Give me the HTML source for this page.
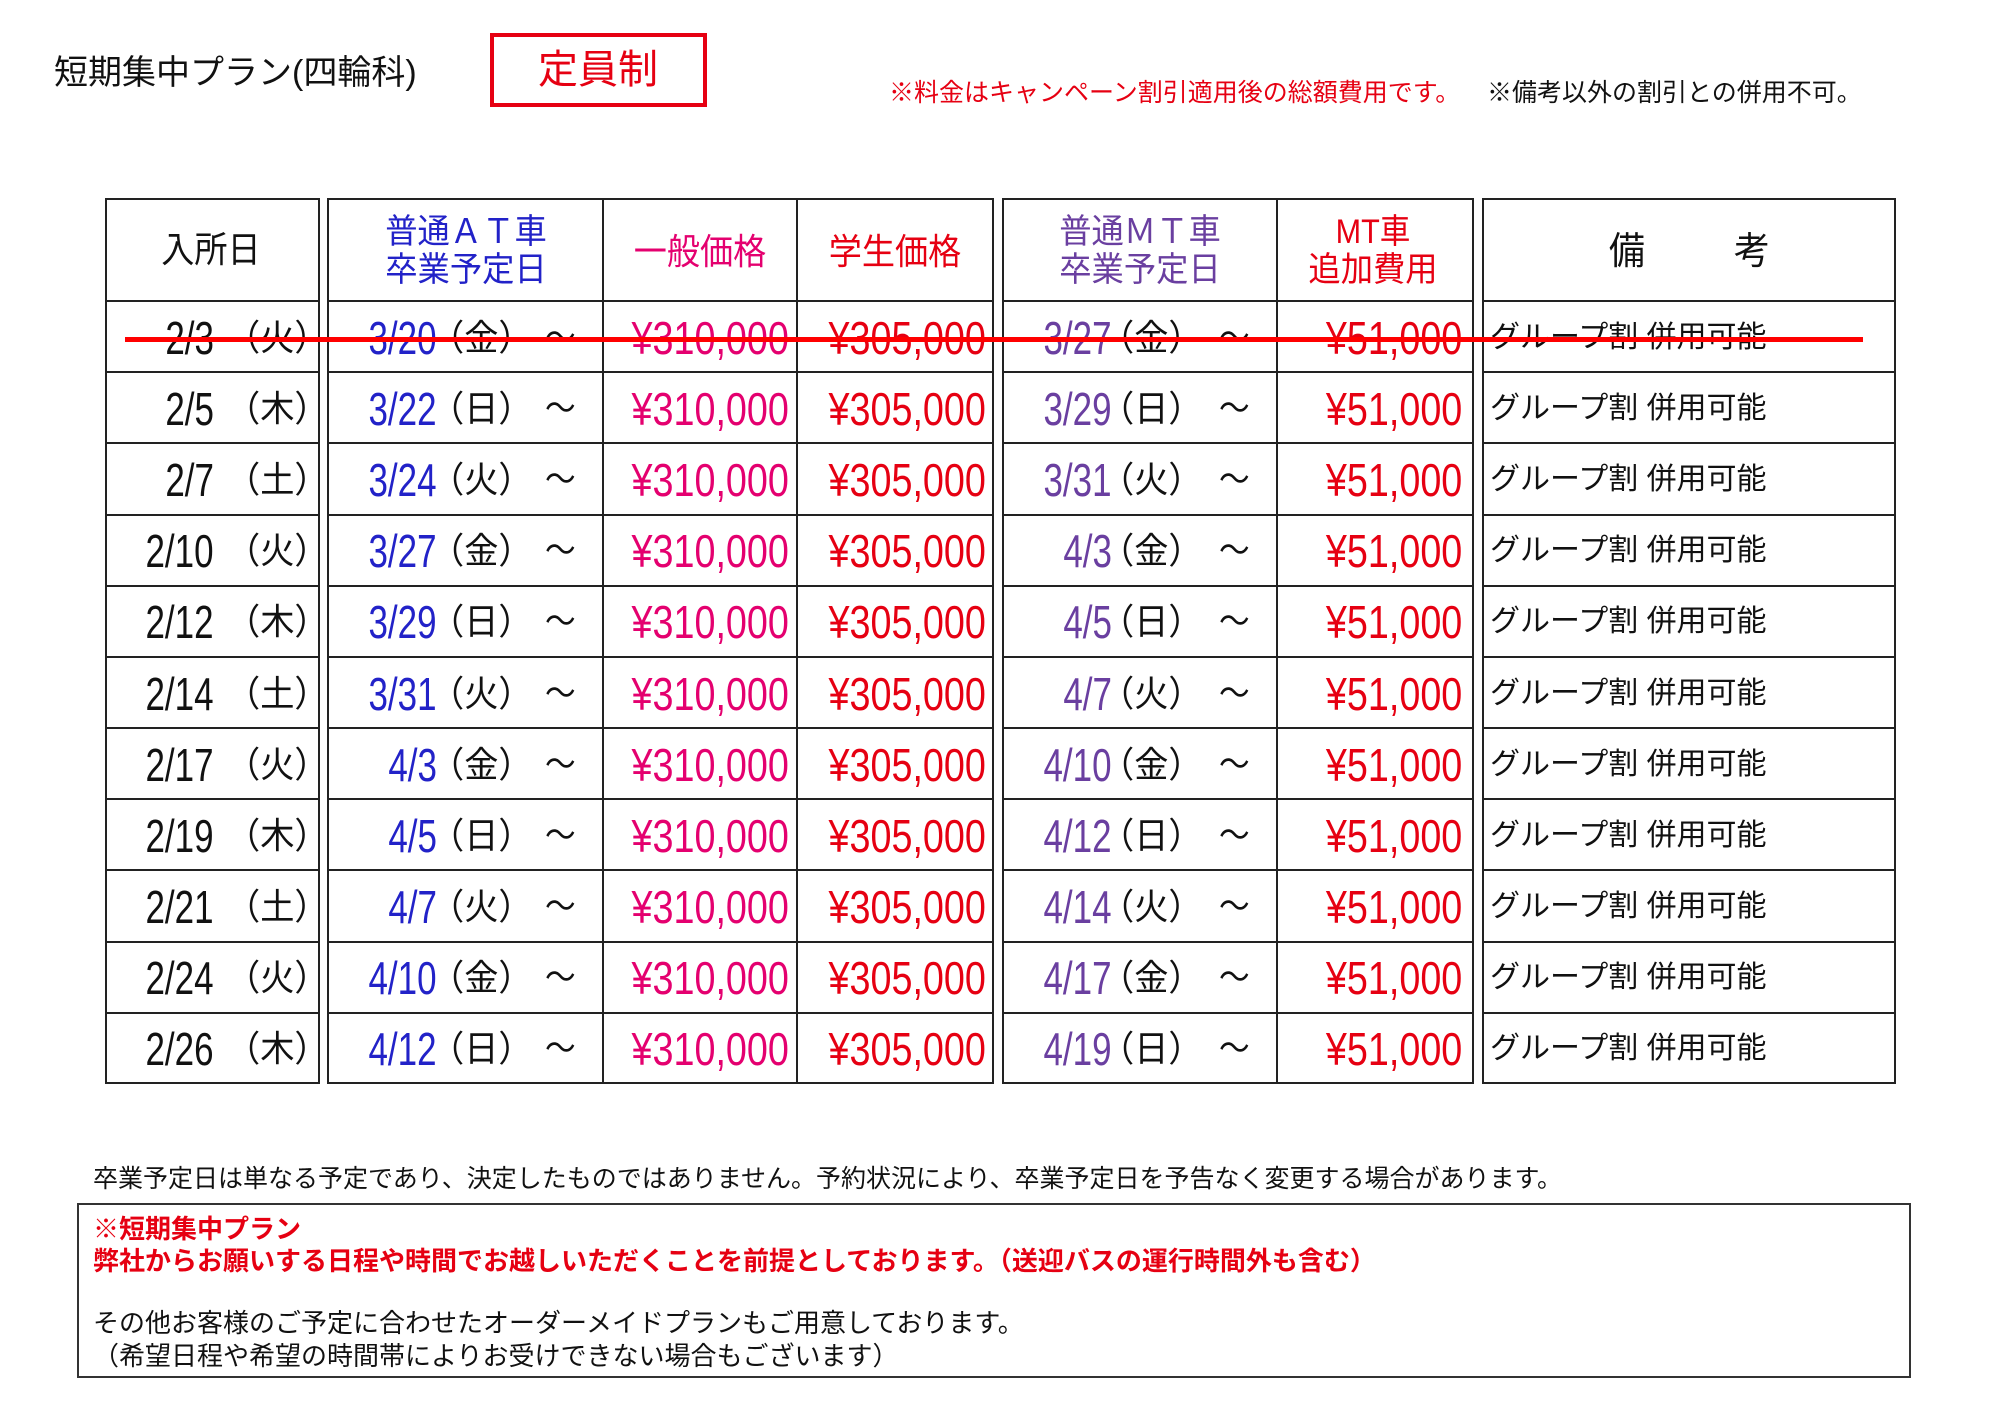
<!DOCTYPE html>
<html><head><meta charset="utf-8">
<style>
html,body{margin:0;padding:0;background:#fff;}
body{width:2000px;height:1414px;position:relative;overflow:hidden;font-family:"Liberation Sans","Noto Sans CJK JP",sans-serif;}
.t{position:absolute;white-space:nowrap;line-height:1;}
.grp{position:absolute;border:2px solid #222;box-sizing:border-box;}
.v{position:absolute;top:0;bottom:0;width:2px;background:#222;}
.h{position:absolute;left:0;right:0;height:2px;background:#222;}
</style></head><body>
<div class="t" style="left:54px;top:56px;font-size:34px;color:#111;">短期集中プラン(四輪科)</div>
<div style="position:absolute;left:490px;top:33px;width:217px;height:74px;border:4px solid #e60012;box-sizing:border-box;"></div>
<div class="t" style="left:538px;top:50px;font-size:40px;color:#e60012;">定員制</div>
<div class="t" style="left:889px;top:81px;font-size:25px;color:#e60012;">※料金はキャンペーン割引適用後の総額費用です。</div>
<div class="t" style="left:1487px;top:81px;font-size:25px;color:#111;">※備考以外の割引との併用不可。</div>

<div id="tbl"></div>

<div class="t" style="left:93px;top:1167px;font-size:25px;color:#111;">卒業予定日は単なる予定であり、決定したものではありません。予約状況により、卒業予定日を予告なく変更する場合があります。</div>
<div style="position:absolute;left:77px;top:1203px;width:1834px;height:175px;border:2px solid #333;box-sizing:border-box;"></div>
<div class="t" style="left:93px;top:1216px;font-size:26px;font-weight:bold;color:#e60012;">※短期集中プラン</div>
<div class="t" style="left:93px;top:1248px;font-size:26px;font-weight:bold;color:#e60012;">弊社からお願いする日程や時間でお越しいただくことを前提としております。（送迎バスの運行時間外も含む）</div>
<div class="t" style="left:93px;top:1310px;font-size:26px;color:#111;">その他お客様のご予定に合わせたオーダーメイドプランもご用意しております。</div>
<div class="t" style="left:93px;top:1343px;font-size:26px;color:#111;">（希望日程や希望の時間帯によりお受けできない場合もございます）</div>

<script>
var T=document.getElementById('tbl');
var TOP=198,HB=301,BOT=1084,RH=(BOT-HB)/11;
function el(h){T.insertAdjacentHTML('beforeend',h);}
function grp(l,r,cols){
  var s='<div class="grp" style="left:'+l+'px;top:'+TOP+'px;width:'+(r-l)+'px;height:'+(BOT-TOP)+'px;">';
  cols.forEach(function(c){s+='<div class="v" style="left:'+(c-l-3)+'px"></div>';});
  s+='<div class="h" style="top:'+(HB-TOP-3)+'px"></div>';
  for(var i=1;i<11;i++)s+='<div class="h" style="top:'+(Math.round(HB+RH*i)-TOP-3)+'px"></div>';
  s+='</div>';el(s);
}
grp(105,320,[]);grp(327,994,[603,797]);grp(1002,1474,[1277]);grp(1482,1896,[]);
function R(txt,xr,cy,sz,col,sx){el('<div class="t" style="right:'+(2000-xr)+'px;top:'+(cy-sz/2)+'px;font-size:'+sz+'px;color:'+col+';transform:scaleX('+sx+');transform-origin:right center;">'+txt+'</div>');}
function L(txt,xl,cy,sz,col,sx){el('<div class="t" style="left:'+xl+'px;top:'+(cy-sz/2)+'px;font-size:'+sz+'px;color:'+col+';transform:scaleX('+sx+');transform-origin:left center;">'+txt+'</div>');}
function C(txt,xc,cy,sz,col,sx){el('<div class="t" style="left:'+(xc-500)+'px;width:1000px;text-align:center;top:'+(cy-sz/2)+'px;font-size:'+sz+'px;color:'+col+';transform:scaleX('+sx+');">'+txt+'</div>');}
var BL='#2222c8',PU='#6a3fa0',MG='#e4006f',RD='#e60012',BK='#111';
C('入所日',211,250,36,BK,0.92);
C('普通ＡＴ車',466,232,34,BL,0.95);C('卒業予定日',466,270,34,BL,0.95);
C('一般価格',700,252,36,MG,0.92);
C('学生価格',895,252,36,RD,0.92);
C('普通ＭＴ車',1140,232,34,PU,0.95);C('卒業予定日',1140,270,34,PU,0.95);
C('MT車',1373,232,34,RD,0.9);C('追加費用',1373,270,34,RD,0.95);
C('備',1627,252,38,BK,0.95);C('考',1752,252,38,BK,0.95);
var rows=[
['2/3','火','3/20','金','3/27','金'],
['2/5','木','3/22','日','3/29','日'],
['2/7','土','3/24','火','3/31','火'],
['2/10','火','3/27','金','4/3','金'],
['2/12','木','3/29','日','4/5','日'],
['2/14','土','3/31','火','4/7','火'],
['2/17','火','4/3','金','4/10','金'],
['2/19','木','4/5','日','4/12','日'],
['2/21','土','4/7','火','4/14','火'],
['2/24','火','4/10','金','4/17','金'],
['2/26','木','4/12','日','4/19','日']];
rows.forEach(function(r,i){
  var cy=HB+RH*(i+0.5)+1;
  R(r[0],214,cy,46,BK,0.76);
  L('（'+r[1]+'）',226,cy,36,BK,0.95);
  R(r[2],437,cy,46,BL,0.76);
  L('（'+r[3]+'）',430,cy,36,BK,0.95);
  L('～',545,cy,34,BK,0.9);
  R('¥310,000',789,cy,46,MG,0.82);
  R('¥305,000',986,cy,46,RD,0.82);
  R(r[4],1112,cy,46,PU,0.76);
  L('（'+r[5]+'）',1100,cy,36,BK,0.95);
  L('～',1219,cy,34,BK,0.9);
  R('¥51,000',1462,cy,46,RD,0.82);
  L('グループ割 併用可能',1490,cy,30,BK,1.0);
});
el('<div style="position:absolute;left:125px;top:337px;width:1738px;height:5px;background:#f00;"></div>');
</script>
</body></html>
